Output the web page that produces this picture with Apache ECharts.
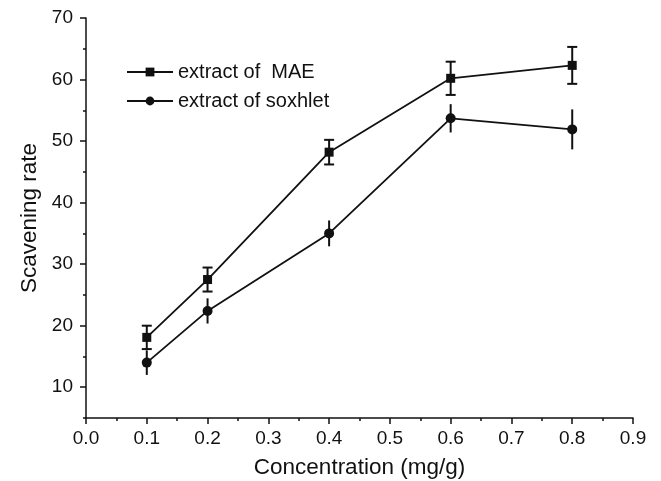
<!DOCTYPE html>
<html>
<head>
<meta charset="utf-8">
<script src="https://cdn.jsdelivr.net/npm/echarts@6/dist/echarts.min.js"></script>
<style>
  html, body { margin: 0; padding: 0; background: #fff; }
  #main { width: 661px; height: 481px; }
</style>
</head>
<body>
<div id="main"></div>
<script>
// data
var conc = [0.1, 0.2, 0.4, 0.6, 0.8];
var maeValues = [18.1, 27.5, 48.2, 60.2, 62.3];
var maeErrors = [1.9, 1.95, 2.0, 2.7, 3.0];
var soxValues = [14.0, 22.4, 35.0, 53.7, 51.9];
var soxErrors = [2.0, 2.05, 2.1, 2.3, 3.25];
var yMajorTicks = [10, 20, 30, 40, 50, 60, 70];
var yMinorTicks = [5, 15, 25, 35, 45, 55, 65];

var font = '"Liberation Sans", Arial, Helvetica, sans-serif';
var ink = '#111';

var myChart = echarts.init(document.getElementById('main'));

function pairs(xs, ys) {
    var out = [];
    for (var i = 0; i < xs.length; i++) {
        out.push([xs[i], ys[i]]);
    }
    return out;
}

function errRows(xs, ys, es) {
    var out = [];
    for (var i = 0; i < xs.length; i++) {
        out.push([xs[i], ys[i] - es[i], ys[i] + es[i]]);
    }
    return out;
}

// error bars, caps optional
function errorBar(capHalf) {
    return function (params, api) {
        var lo = api.coord([api.value(0), api.value(1)]);
        var hi = api.coord([api.value(0), api.value(2)]);
        var style = { stroke: ink, lineWidth: 2 };
        var kids = [{
            type: 'line',
            shape: { x1: lo[0], y1: lo[1], x2: hi[0], y2: hi[1] },
            style: style
        }];
        if (capHalf > 0) {
            kids.push({
                type: 'line',
                shape: { x1: lo[0] - capHalf, y1: lo[1], x2: lo[0] + capHalf, y2: lo[1] },
                style: style
            });
            kids.push({
                type: 'line',
                shape: { x1: hi[0] - capHalf, y1: hi[1], x2: hi[0] + capHalf, y2: hi[1] },
                style: style
            });
        }
        return { type: 'group', children: kids };
    };
}

var option = {
    animation: false,
    backgroundColor: '#fff',
    textStyle: { fontFamily: font, color: ink },
    grid: { left: 86, right: 28, top: 18, bottom: 63, containLabel: false, outerBoundsMode: 'none' },
    legend: {
        orient: 'vertical',
        left: 126,
        top: 62,
        padding: 0,
        itemWidth: 46,
        itemHeight: 11,
        itemGap: 9,
        data: ['extract of  MAE', 'extract of soxhlet'],
        textStyle: { fontFamily: font, fontSize: 20, color: ink }
    },
    xAxis: {
        type: 'value',
        min: 0,
        max: 0.9,
        interval: 0.1,
        name: 'Concentration (mg/g)',
        nameLocation: 'middle',
        nameGap: 38,
        nameTextStyle: { fontFamily: font, fontSize: 22.5, color: ink },
        axisLine: { onZero: false, lineStyle: { color: ink, width: 1.5 } },
        axisTick: { length: 6, lineStyle: { color: ink, width: 1.5 } },
        minorTick: { show: true, splitNumber: 2, length: 3, lineStyle: { color: ink, width: 1.5 } },
        splitLine: { show: false },
        axisLabel: {
            margin: 11,
            fontSize: 19,
            color: ink,
            formatter: function (v) { return v.toFixed(1); }
        }
    },
    yAxis: [{
        type: 'value',
        min: 5,
        max: 70,
        name: 'Scavening rate',
        nameLocation: 'middle',
        nameGap: 45,
        nameTextStyle: { fontFamily: font, fontSize: 22.5, color: ink },
        axisLine: { show: true, lineStyle: { color: ink, width: 1.5 } },
        axisTick: { length: 6, customValues: yMajorTicks, lineStyle: { color: ink, width: 1.5 } },
        splitLine: { show: false },
        axisLabel: { margin: 13, fontSize: 19, color: ink, customValues: yMajorTicks }
    }, {
        type: 'value',
        position: 'left',
        min: 5,
        max: 70,
        axisLine: { show: false },
        axisTick: { show: true, length: 3, customValues: yMinorTicks, lineStyle: { color: ink, width: 1.5 } },
        axisLabel: { show: false, customValues: yMinorTicks },
        splitLine: { show: false }
    }],
    series: [
        {
            name: 'extract of  MAE',
            type: 'line',
            data: pairs(conc, maeValues),
            symbol: 'rect',
            symbolSize: 9,
            itemStyle: { color: ink },
            lineStyle: { color: ink, width: 1.8 },
            z: 3
        },
        {
            name: 'extract of soxhlet',
            type: 'line',
            data: pairs(conc, soxValues),
            symbol: 'circle',
            symbolSize: 10,
            itemStyle: { color: ink },
            lineStyle: { color: ink, width: 1.8 },
            z: 3
        },
        {
            type: 'custom',
            renderItem: errorBar(5),
            data: errRows(conc, maeValues, maeErrors),
            z: 2
        },
        {
            type: 'custom',
            renderItem: errorBar(0),
            data: errRows(conc, soxValues, soxErrors),
            z: 2
        }
    ]
};

myChart.setOption(option);
</script>
</body>
</html>
